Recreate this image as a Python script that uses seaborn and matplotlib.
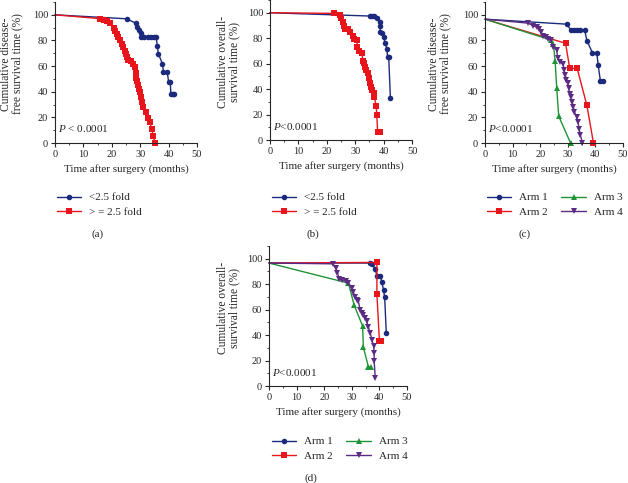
import matplotlib
matplotlib.use("Agg")
import matplotlib.pyplot as plt
import seaborn as sns
from matplotlib.ticker import MultipleLocator

# ---- data ----
# (a) disease-free survival by fold change
a_low_t = [0, 25.2, 28.4, 28.9, 29.7, 30.2, 30.4, 31.5, 32.6, 33.8, 35.0, 35.6, 36.0, 36.4,
           37.8, 38.2, 39.5, 40.0, 40.6, 40.8, 41.5, 42.0]
a_low_s = [100, 96.9, 93.5, 90.3, 88.3, 86.2, 83.0, 83.0, 83.0, 83.0, 83.0, 83.0, 76.0, 69.5,
           62.0, 55.6, 55.6, 47.8, 47.8, 38.0, 38.0, 38.0]
a_high_t = [0, 16.0, 17.2, 18.3, 19.5, 20.6, 21.2, 21.7, 22.3, 22.9, 23.5, 24.0, 24.6,
            25.0, 25.2, 25.7, 26.9, 27.5, 28.0, 28.4, 28.6, 28.9, 29.2, 29.5, 30.0, 30.3,
            30.7, 30.9, 32.0, 32.8, 33.4, 34.1, 34.6, 35.1]
a_high_s = [100, 97.0, 96.0, 95.0, 93.5, 90.0, 87.7, 85.0, 82.5, 80.0, 77.0, 74.7, 72.0,
            69.5, 66.8, 64.8, 63.7, 61.6, 59.0, 55.0, 51.0, 48.6, 45.4, 42.0, 39.4, 35.5,
            31.6, 27.7, 23.8, 19.8, 16.0, 10.7, 5.5, 0.0]

# (b) overall survival by fold change
b_low_t = [0, 35.1, 35.9, 36.7, 37.6, 38.6, 38.8, 38.8, 39.4, 40.0, 40.6, 41.2, 41.4, 41.8, 42.4]
b_low_s = [100, 97.4, 97.4, 97.4, 95.5, 93.0, 89.5, 85.0, 83.8, 80.6, 75.9, 71.2, 64.9, 64.9, 32.7]
b_high_t = [0, 22.6, 24.5, 24.9, 25.6, 25.9, 26.5, 27.6, 28.2, 29.2, 29.6, 30.6, 30.8, 31.2, 32.4,
            32.7, 33.2, 33.5, 33.9, 34.4, 34.7, 35.1, 35.5, 35.9, 36.5, 36.7, 37.4, 37.6, 37.9, 38.8]
b_high_s = [100, 99.5, 98.0, 95.5, 93.0, 89.5, 87.0, 87.0, 85.0, 81.7, 79.0, 78.5, 73.3, 70.0, 68.0,
            62.3, 60.2, 57.6, 55.0, 52.4, 48.4, 44.5, 41.4, 39.3, 36.6, 34.0, 26.7, 19.6, 6.5, 6.5]

# (c) disease-free survival by arm
c_arm1_t = [0, 29.7, 31.0, 32.2, 33.4, 34.6, 36.1, 36.9, 38.9, 40.5, 41.0, 41.8, 42.6]
c_arm1_s = [96.6, 92.7, 88.3, 88.3, 88.3, 88.3, 88.3, 79.9, 70.5, 70.5, 60.8, 48.6, 48.6]
c_arm2_t = [0, 29.2, 30.7, 33.4, 36.9, 39.3]
c_arm2_s = [96.6, 77.8, 58.2, 58.2, 29.5, 0]
c_arm3_t = [0, 23.8, 24.8, 25.4, 26.0, 26.7, 31.0]
c_arm3_s = [96.6, 80.4, 77.3, 64.0, 42.6, 20.9, 0]
c_arm4_t = [0, 15.6, 17.4, 18.7, 19.7, 20.3, 21.1, 22.1, 23.0, 23.8, 24.6, 26.0, 26.3, 27.0, 28.3,
            28.7, 29.1, 29.5, 30.0, 30.3, 30.7, 31.0, 31.6, 32.0, 32.4, 33.2, 33.7, 34.1, 34.6, 35.3]
c_arm4_s = [96.6, 93.5, 91.6, 90.3, 89.0, 86.4, 83.8, 82.5, 81.2, 80.4, 75.2, 72.6, 66.3, 63.4, 62.0,
            56.9, 53.0, 49.1, 46.5, 42.6, 38.6, 36.0, 32.1, 28.2, 24.3, 20.4, 16.4, 11.2, 6.0, 0]

# (d) overall survival by arm
d_arm1_t = [0, 36.7, 37.3, 38.5, 39.1, 40.3, 40.9, 41.5, 41.9, 42.5]
d_arm1_s = [96.6, 96.6, 96.0, 91.9, 86.6, 86.6, 81.4, 75.6, 69.8, 41.5]
d_arm2_t = [0, 39.1, 39.1, 40.0, 40.5]
d_arm2_s = [96.6, 97.1, 72.2, 35.7, 35.7]
d_arm3_t = [0, 28.8, 30.8, 33.9, 34.2, 36.0, 37.0]
d_arm3_s = [96.6, 80.8, 63.8, 47.2, 30.4, 15.2, 15.2]
d_arm4_t = [0, 23.1, 24.3, 24.8, 25.5, 26.3, 27.9, 28.8, 30.0, 30.6, 31.2, 31.8, 32.4, 33.0, 33.6,
            34.2, 34.8, 35.4, 36.0, 36.7, 37.3, 37.9, 38.1, 38.1, 38.5]
d_arm4_s = [96.6, 96.0, 92.6, 88.7, 84.0, 83.4, 82.2, 80.8, 76.9, 73.5, 69.8, 67.7, 66.4, 59.8, 57.2,
            55.9, 53.3, 50.7, 46.2, 41.5, 36.2, 31.5, 26.2, 19.9, 6.0]

fold_labels = ["<2.5 fold", "> = 2.5 fold"]
arm_labels = ["Arm 1", "Arm 2", "Arm 3", "Arm 4"]
ylabels = ["Cumulative disease-\nfree survival time (%)",
           "Cumulative overall-\nsurvival time (%)"]
xlabel = "Time after surgery (months)"

# colours / markers per series
BLUE, RED, GREEN, PURPLE = "#1b2a7c", "#e8151c", "#1f9436", "#5b2b84"
styles = [(BLUE, "o"), (RED, "s"), (GREEN, "^"), (PURPLE, "v")]

sns.set_style("ticks")
plt.rcParams["font.family"] = ["Liberation Serif", "DejaVu Serif"]
plt.rcParams["mathtext.fontset"] = "custom"
plt.rcParams["mathtext.it"] = "Liberation Serif:italic"
plt.rcParams["mathtext.rm"] = "Liberation Serif"

fig = plt.figure(figsize=(6.28, 4.83), dpi=100)
W, H = 628, 483


def make_ax(x0, x1, ybot, ytop):
    # pixel box -> figure fraction
    return fig.add_axes([x0 / W, 1 - ybot / H, (x1 - x0) / W, (ybot - ytop) / H])


def draw_panel(ax, series, labels, ylab, ylab_x, ptext, leg_xy, ncol, tag, tag_xy):
    for (t, s), lab, (col, mk) in zip(series, labels, styles):
        # start point (0, S0) has no marker, like the original
        sns.lineplot(x=t, y=s, ax=ax, sort=False, estimator=None, color=col,
                     marker=mk, markersize=4, markeredgewidth=0, linewidth=1.0,
                     markevery=list(range(1, len(t))), label=lab, clip_on=False)
    ax.set_xlim(0, 50)
    ax.set_ylim(0, 110)
    ax.set_yticks(range(0, 101, 20))
    ax.set_xticks(range(0, 51, 10))
    ax.yaxis.set_minor_locator(MultipleLocator(10))
    ax.xaxis.set_minor_locator(MultipleLocator(5))
    ax.tick_params(which="major", length=3, width=0.8, labelsize=7.5, pad=2)
    ax.tick_params(which="minor", length=1.5, width=0.6)
    for sp in ["left", "bottom"]:
        ax.spines[sp].set_linewidth(0.8)
    sns.despine(ax=ax)
    ax.set_xlabel(xlabel, fontsize=8, labelpad=4)
    ax.set_ylabel(ylab, fontsize=8.3, linespacing=0.9)
    ax.yaxis.set_label_coords(ylab_x, 0.56)
    ax.text(1.2, 11, ptext, fontsize=8, va="center", ha="left")

    handles, labs = ax.get_legend_handles_labels()
    ax.get_legend().remove()
    fig.legend(handles, labs, loc="center left",
               bbox_to_anchor=(leg_xy[0] / W, 1 - leg_xy[1] / H),
               bbox_transform=fig.transFigure, ncol=ncol, frameon=False,
               fontsize=8, handlelength=2.2, handletextpad=0.7, numpoints=1,
               markerscale=1.0, columnspacing=1.2, labelspacing=0.45,
               borderpad=0, borderaxespad=0)
    fig.text(tag_xy[0] / W, 1 - tag_xy[1] / H, tag, fontsize=8, ha="center", va="center")


ax_a = make_ax(55, 197, 143, 2)
draw_panel(ax_a, [(a_low_t, a_low_s), (a_high_t, a_high_s)], fold_labels, ylabels[0], -0.225,
           r"$P$ < 0.0001", (57, 205), 1, "(a)", (98, 234))

ax_b = make_ax(270, 412, 140, 0)
draw_panel(ax_b, [(b_low_t, b_low_s), (b_high_t, b_high_s)], fold_labels, ylabels[1], -0.21,
           r"$P$<0.0001", (272, 205), 1, "(b)", (313, 234))

ax_c = make_ax(485, 623, 143, 2)
draw_panel(ax_c, [(c_arm1_t, c_arm1_s), (c_arm2_t, c_arm2_s), (c_arm3_t, c_arm3_s),
                  (c_arm4_t, c_arm4_s)], arm_labels, ylabels[0], -0.245,
           r"$P$<0.0001", (487, 205), 2, "(c)", (525, 234))

ax_d = make_ax(269, 407, 386, 246)
draw_panel(ax_d, [(d_arm1_t, d_arm1_s), (d_arm2_t, d_arm2_s), (d_arm3_t, d_arm3_s),
                  (d_arm4_t, d_arm4_s)], arm_labels, ylabels[1], -0.21,
           r"$P$<0.0001", (272, 449), 2, "(d)", (311, 478))

fig.savefig("out.png", dpi=100)
